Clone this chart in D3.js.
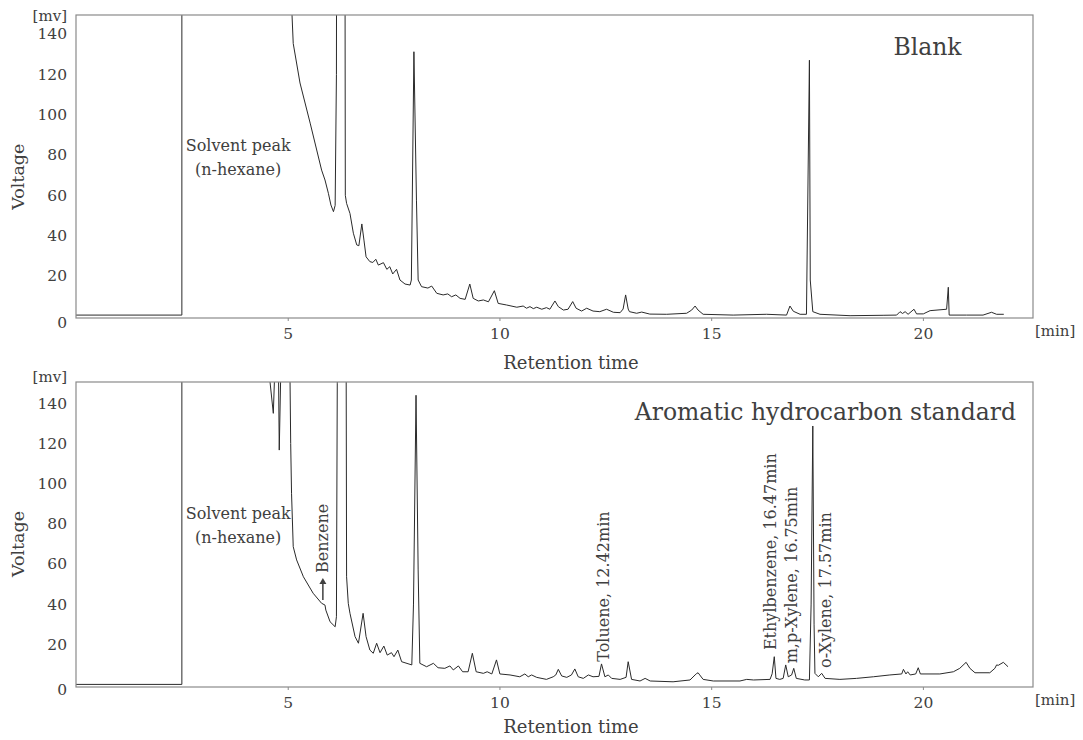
<!DOCTYPE html>
<html><head><meta charset="utf-8">
<script src="https://cdn.jsdelivr.net/npm/d3@7"></script>
<style>
body{margin:0;background:#fff;}
svg{display:block;font-family:"DejaVu Serif",serif;}
</style></head><body>
<svg id="chart" width="1083" height="740"></svg>
<script>
// ---------- data ----------
const xTicks = [5, 10, 15, 20];
const yTicks = [0, 20, 40, 60, 80, 100, 120, 140];
const xUnit = "[min]";
const yUnit = "[mv]";
const xTitle = "Retention time";
const yTitle = "Voltage";
const panelTitles = ["Blank", "Aromatic hydrocarbon standard"];
const solventLabel = ["Solvent peak", "(n-hexane)"];

// [retention time (min), voltage (mV)]; 400 = off-scale
const blankTrace = [
[0,0.6],[2.50,0.6],[2.50,400],[5.05,400],[5.08,160],[5.13,135.3],[5.29,115.7],[5.53,95.8],[5.80,72.5],[5.88,67.6],
[5.96,61],[6.02,55.2],[6.08,51.9],[6.12,55],[6.15,120],[6.17,400],[6.34,400],[6.36,60],[6.39,56],[6.47,51],
[6.55,41.2],[6.63,35.4],[6.68,35],[6.75,45.8],[6.80,37.8],[6.85,29.5],[6.94,27.1],[7.01,26.7],[7.08,28.3],[7.14,25.4],
[7.26,26.6],[7.34,23.3],[7.41,24.6],[7.48,21],[7.57,23.3],[7.65,18],[7.77,16],[7.89,15.5],[7.92,18],[7.98,131.2],
[8.04,57.6],[8.08,18],[8.16,14.7],[8.31,14],[8.40,15],[8.52,11.4],[8.67,10.6],[8.78,11.1],[8.87,9.7],[8.97,10.6],
[9.07,8.9],[9.19,8.4],[9.30,16],[9.38,8.9],[9.50,7.6],[9.62,8.1],[9.74,7.2],[9.88,12.7],[9.97,6.4],[10.17,5.6],
[10.41,4.5],[10.56,5.1],[10.64,4.0],[10.72,4.8],[10.80,3.8],[10.88,4.5],[11.00,3.5],[11.11,4.3],[11.19,3.5],[11.31,7.6],
[11.39,4.8],[11.51,3.1],[11.62,3.5],[11.73,7.3],[11.81,4.0],[11.94,2.6],[12.06,4.0],[12.21,2.6],[12.37,2.3],[12.53,3.5],
[12.69,2.0],[12.85,1.8],[12.92,3.6],[12.98,10.6],[13.04,3.6],[13.07,2.3],[13.24,1.5],[13.36,2.1],[13.55,1.1],[13.95,1.0],
[14.42,1.5],[14.54,3.1],[14.62,5.1],[14.69,3.1],[14.81,1.0],[15.52,0.6],[16.31,1.0],[16.78,0.6],[16.86,5.1],[16.94,2.5],
[17.10,1],[17.25,1],[17.32,127],[17.34,18],[17.40,2.3],[17.57,1.0],[18.28,0.3],[19.06,0.5],[19.38,0.6],[19.46,2.3],
[19.52,1.4],[19.58,2.3],[19.65,1.0],[19.79,3.5],[19.85,1.2],[20.01,1.2],[20.17,2.8],[20.56,3.5],[20.60,14.4],[20.62,0.6],
[21.03,0.6],[21.42,0.6],[21.62,2.0],[21.74,1.0],[21.91,1.0]
];

const standardTrace = [
[0,0],[2.50,0],[2.50,400],[4.54,400],[4.56,155],[4.66,135],[4.70,160],[4.78,160],[4.80,116.7],[4.84,160],
[4.86,400],[5.03,400],[5.05,160],[5.07,120],[5.09,95.2],[5.13,68.6],[5.21,62],[5.37,53.6],[5.60,45.4],[5.80,40.4],
[5.88,39.5],[5.90,37],[6.00,31.2],[6.12,28.7],[6.15,33.7],[6.17,150],[6.19,400],[6.36,400],[6.38,160],[6.39,53.6],
[6.43,40.4],[6.47,35.4],[6.59,23.8],[6.67,20.5],[6.78,35.4],[6.85,23.8],[6.94,17.1],[7.02,15.5],[7.10,20.5],[7.18,15.8],
[7.27,19.1],[7.35,14.6],[7.45,15.8],[7.51,13.8],[7.60,17.1],[7.69,11.3],[7.93,9.7],[7.97,40],[8.03,144],[8.08,57],
[8.12,10.5],[8.28,8.8],[8.44,10.5],[8.55,8.3],[8.71,8.0],[8.83,9.2],[8.91,7.2],[9.03,9.2],[9.13,6.3],[9.26,6.3],
[9.36,15.5],[9.45,6.3],[9.62,5.5],[9.71,6.3],[9.82,5.2],[9.93,12.2],[10.01,5.2],[10.25,4.7],[10.48,3.8],[10.60,5.2],
[10.68,3.8],[10.76,4.7],[10.88,3.5],[11.11,2.5],[11.27,3.8],[11.33,4.7],[11.39,7.5],[11.47,4.2],[11.59,3.5],[11.70,4.7],
[11.78,7.7],[11.86,3.8],[11.98,3.0],[12.10,4.7],[12.21,3.8],[12.35,4.0],[12.41,10.2],[12.49,3.8],[12.57,4.7],[12.65,3.0],
[12.85,2.5],[12.99,3.5],[13.04,11.3],[13.12,2.5],[13.32,1.7],[13.44,3.0],[13.56,1.7],[14.10,1.3],[14.50,2.2],[14.62,4.7],
[14.65,5.3],[14.69,5.8],[14.73,4.7],[14.81,2.5],[15.05,1.7],[15.68,1.7],[15.84,2.5],[16.00,2.2],[16.39,2.5],[16.44,5.3],
[16.49,13.8],[16.53,3.0],[16.62,2.5],[16.70,3.0],[16.76,9.7],[16.82,3.8],[16.90,4.7],[16.95,8.0],[17.01,3.0],[17.21,2.2],
[17.32,2.2],[17.36,40],[17.40,128.7],[17.43,30],[17.45,5.5],[17.53,3.8],[17.61,5.5],[17.69,3.0],[18.04,2.5],[18.43,3.0],
[18.83,3.8],[19.22,4.7],[19.50,5.2],[19.54,7.5],[19.60,5.2],[19.64,6.3],[19.70,4.7],[19.83,5.2],[19.89,8.3],[19.94,5.2],
[20.40,5.2],[20.72,6.3],[20.87,8.0],[21.02,11.0],[21.11,8.0],[21.23,5.8],[21.58,5.8],[21.70,8.0],[21.74,9.7],[21.78,9.5],
[21.90,11.0],[22.01,8.8]
];

// peak annotations (anchor at retention time / voltage)
const peakNames = ["Benzene", "Toluene, 12.42min", "Ethylbenzene, 16.47min", "m,p-Xylene, 16.75min", "o-Xylene, 17.57min"];
const peakLabelTimes = [5.83, 12.45, 16.39, 16.90, 17.69];
const peakLabelVolts = [55.5, 11.3, 17.1, 10.5, 8.2];

// ---------- drawing ----------
const svg = d3.select("#chart");
const TEXT = "#404040", FRAME = "#8a8a8a", TRACE = "#2a2a2a";
const left = 76, right = 1033;
const x = d3.scaleLinear().domain([0, 22.6]).range([left, right]);

const panels = [
  {trace: blankTrace, top: 15, bottom: 318, y0: 316.3, y140: 34, title: panelTitles[0],
   titleX: 927.5, titleY: 46.7, titleAnchor: "middle", unitY: 16, yTitleY: 176.7, xTitleY: 362.7, minY: 331, zeroShift: 6.5, labels: false},
  {trace: standardTrace, top: 382, bottom: 687, y0: 684.4, y140: 403.3, title: panelTitles[1],
   titleX: 1016, titleY: 411.7, titleAnchor: "end", unitY: 377, yTitleY: 544, xTitleY: 727, minY: 700, zeroShift: 5.5, labels: true}
];

panels.forEach((p, i) => {
  const y = d3.scaleLinear().domain([0, 140]).range([p.y0, p.y140]);
  const g = svg.append("g");
  const clipId = "clip" + i;
  svg.append("defs").append("clipPath").attr("id", clipId)
    .append("rect").attr("x", left).attr("y", p.top).attr("width", right - left).attr("height", p.bottom - p.top);

  // trace
  const line = d3.line().x(d => x(d[0])).y(d => y(d[1]));
  g.append("path").datum(p.trace).attr("clip-path", `url(#${clipId})`)
    .attr("d", line).attr("fill", "none").attr("stroke", TRACE).attr("stroke-width", 1)
    .attr("stroke-linejoin", "round");

  // frame
  g.append("rect").attr("x", left).attr("y", p.top).attr("width", right - left).attr("height", p.bottom - p.top)
    .attr("fill", "none").attr("stroke", FRAME).attr("stroke-width", 1.2);

  // x axis
  const xa = g.append("g").attr("transform", `translate(0,${p.bottom})`)
    .call(d3.axisBottom(x).tickValues(xTicks).tickSize(3).tickFormat(d3.format("d")));
  xa.select(".domain").remove();
  xa.selectAll(".tick line").attr("stroke", FRAME);
  xa.selectAll(".tick text").attr("y", 15.5).attr("dy", "0.35em")
    .attr("fill", TEXT).attr("font-size", 15.5).attr("font-family", "DejaVu Serif");

  // y axis
  const ya = g.append("g").attr("transform", `translate(${left},0)`)
    .call(d3.axisLeft(y).tickValues(yTicks).tickSize(0).tickPadding(9));
  ya.select(".domain").remove();
  ya.selectAll(".tick text").attr("fill", TEXT).attr("font-size", 15.5).attr("font-family", "DejaVu Serif")
    .attr("dy", d => d === 0 ? (0.32 * 15.5 + p.zeroShift) + "px" : "0.32em");

  // units and titles
  g.append("text").attr("x", 67).attr("y", p.unitY).attr("dy", "0.35em").attr("text-anchor", "end")
    .attr("font-size", 15).attr("fill", TEXT).text(yUnit);
  g.append("text").attr("x", 1035).attr("y", p.minY).attr("dy", "0.35em").attr("text-anchor", "start")
    .attr("font-size", 15).attr("fill", TEXT).text(xUnit);
  g.append("text").attr("transform", `translate(18,${p.yTitleY}) rotate(-90)`).attr("dy", "0.35em")
    .attr("text-anchor", "middle").attr("font-size", 17.5).attr("fill", TEXT).text(yTitle);
  g.append("text").attr("x", 571).attr("y", p.xTitleY).attr("dy", "0.35em").attr("text-anchor", "middle")
    .attr("font-size", 18).attr("fill", TEXT).text(xTitle);
  g.append("text").attr("x", p.titleX).attr("y", p.titleY).attr("dy", "0.35em").attr("text-anchor", p.titleAnchor)
    .attr("font-size", 23.5).attr("fill", TEXT).text(p.title);

  // solvent label
  g.selectAll("text.solv").data(solventLabel).join("text").attr("class", "solv")
    .attr("x", x(3.83)).attr("y", (d, k) => y(85) + k * 24).attr("dy", "0.35em")
    .attr("text-anchor", "middle").attr("font-size", 16).attr("fill", TEXT).text(d => d);

  if (p.labels) {
    peakNames.forEach((name, k) => {
      const px = x(peakLabelTimes[k]), py = y(peakLabelVolts[k]);
      g.append("text").attr("transform", `translate(${px},${py}) rotate(-90)`).attr("dy", "0.35em")
        .attr("text-anchor", "start").attr("font-size", 16).attr("fill", TEXT).text(name);
      if (k === 0) {
        // arrow pointing up to the Benzene label
        g.append("line").attr("x1", px).attr("x2", px).attr("y1", py + 27).attr("y2", py + 9)
          .attr("stroke", TEXT).attr("stroke-width", 1.5);
        g.append("path").attr("d", `M${px - 3.5},${py + 11} L${px},${py + 5} L${px + 3.5},${py + 11} Z`)
          .attr("fill", TEXT);
      }
    });
  }
});
</script>
</body></html>
